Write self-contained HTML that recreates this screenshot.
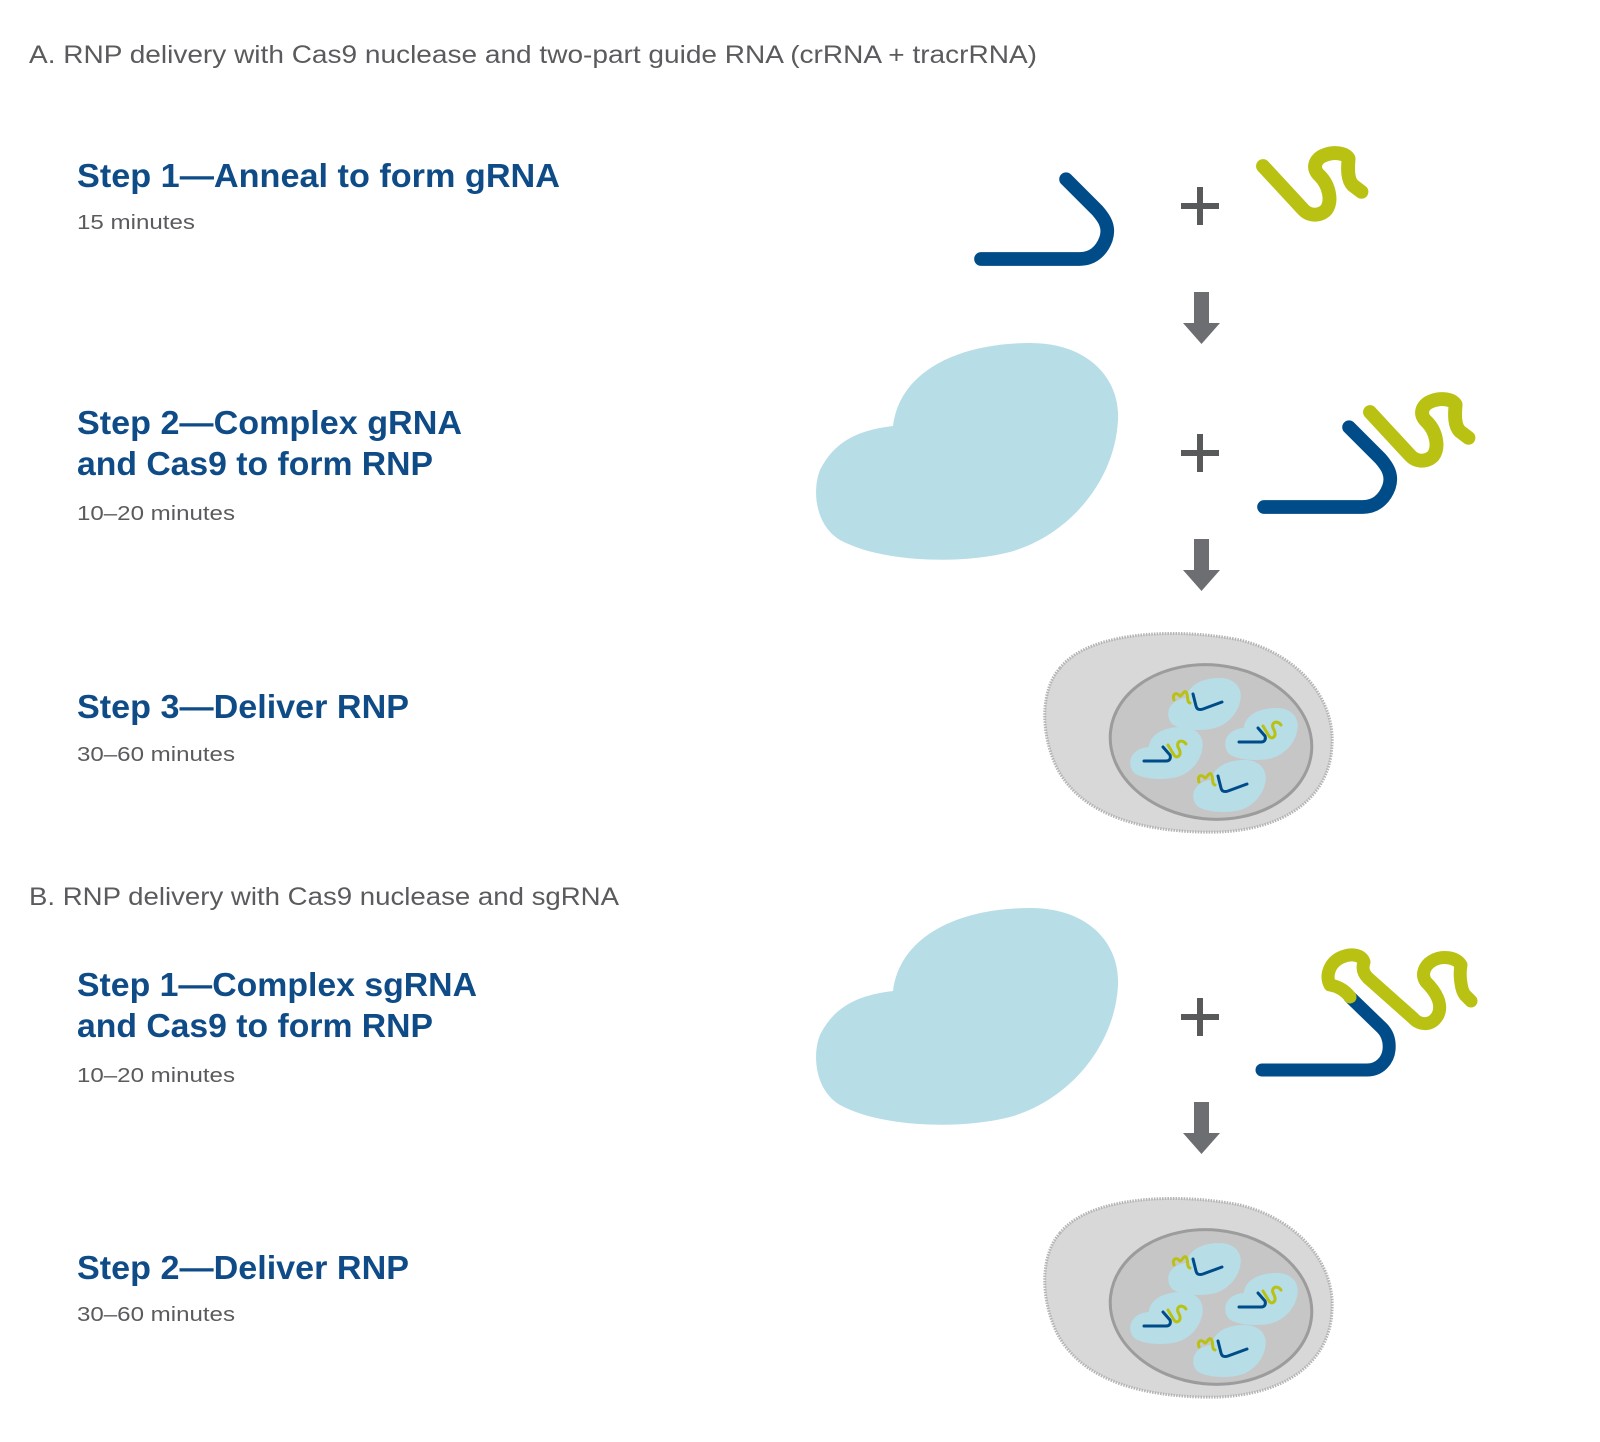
<!DOCTYPE html>
<html><head><meta charset="utf-8"><style>
html,body{margin:0;padding:0;background:#fff}
svg{display:block}
.t{font-family:"Liberation Sans",sans-serif;fill:#5a5b5e;font-size:25px}
.h{font-family:"Liberation Sans",sans-serif;fill:#0f4c87;font-size:33px;font-weight:bold}
.m{font-family:"Liberation Sans",sans-serif;fill:#5a5b5e;font-size:20px}
</style></head><body>
<svg width="1600" height="1442" viewBox="0 0 1600 1442" xmlns="http://www.w3.org/2000/svg">
<defs>
<path id="blob" d="M893,426 C900,370 960,343 1030,343 C1090,343 1120,380 1118,420 C1115,480 1070,535 1010,552 C960,565 880,562 840,540 C815,525 812,490 820,470 C835,440 860,430 893,426 Z" fill="#b7dde7"/>
<path id="blue" d="M981,259 L1075,259 C1090,259 1097,248 1100,240 C1104,228 1098,220 1092,213 L1062,183" fill="none" stroke="#004c89" stroke-width="13" stroke-linecap="round" stroke-linejoin="round"/>
<path id="green" d="M1243,167 L1280,207 C1286,214 1296,214 1302,208 C1308,200 1305,185 1296,176 C1288,169 1292,160 1300,157 C1310,153 1320,155 1323,160 C1322,170 1322,180 1327,185 L1335,191" fill="none" stroke="#b9c213" stroke-width="13" stroke-linecap="round" stroke-linejoin="round"/>
<g id="arrow" fill="#6d6e71"><rect x="1194" y="292" width="15" height="32"/><polygon points="1183,323 1220,323 1201.5,344"/></g>
<g id="plus" fill="#58595b"><rect x="1197" y="187" width="6" height="38"/><rect x="1181" y="203" width="38" height="6"/></g>
<g id="miniA">
<use href="#blob" transform="scale(0.24) translate(-815,-343)"/>
<path d="M6,22 C4,16 8,14 11,17 C13,21 15,12 18,14 C21,17 18,24 22,25" fill="none" stroke="#b9c213" stroke-width="3" stroke-linecap="round"/>
<path d="M25,16 L28,28 C29,32 32,32 35,31 L54,24" fill="none" stroke="#004c89" stroke-width="3" stroke-linecap="round"/>
</g>
<g id="miniB">
<use href="#blob" transform="scale(0.24) translate(-815,-343)"/>
<path d="M14,34 L36,34 C40,34 41,31 40,28 L33,20" fill="none" stroke="#004c89" stroke-width="3" stroke-linecap="round"/>
<path d="M38,18 L44,28 C46,31 49,30 50,27 C51,22 46,20 48,16 C50,13 54,14 56,17" fill="none" stroke="#b9c213" stroke-width="3" stroke-linecap="round"/>
</g>
<g id="cell">
<path d="M1060,668 C1090,630 1180,628 1240,640 C1300,655 1335,700 1332,745 C1330,800 1280,835 1200,832 C1130,830 1080,810 1058,770 C1040,735 1040,690 1060,668 Z" fill="#d8d8d8" stroke="#b4b4b4" stroke-width="3" stroke-dasharray="1.5 1.2"/>
<ellipse cx="1211" cy="742" rx="101" ry="77" fill="#c6c6c6" stroke="#9c9c9c" stroke-width="3" transform="rotate(6 1211 742)"/>
</g>
</defs>

<text class="t" x="29" y="63" textLength="1008" lengthAdjust="spacingAndGlyphs">A. RNP delivery with Cas9 nuclease and two-part guide RNA (crRNA + tracrRNA)</text>
<text class="h" x="77" y="187" textLength="483" lengthAdjust="spacingAndGlyphs">Step 1—Anneal to form gRNA</text>
<text class="m" x="77" y="229" textLength="118" lengthAdjust="spacingAndGlyphs">15 minutes</text>
<text class="h" x="77" y="434" textLength="385" lengthAdjust="spacingAndGlyphs">Step 2—Complex gRNA</text>
<text class="h" x="77" y="475" textLength="356" lengthAdjust="spacingAndGlyphs">and Cas9 to form RNP</text>
<text class="m" x="77" y="520" textLength="158" lengthAdjust="spacingAndGlyphs">10–20 minutes</text>
<text class="h" x="77" y="718" textLength="332" lengthAdjust="spacingAndGlyphs">Step 3—Deliver RNP</text>
<text class="m" x="77" y="761" textLength="158" lengthAdjust="spacingAndGlyphs">30–60 minutes</text>

<text class="t" x="29" y="905" textLength="590" lengthAdjust="spacingAndGlyphs">B. RNP delivery with Cas9 nuclease and sgRNA</text>
<text class="h" x="77" y="996" textLength="400" lengthAdjust="spacingAndGlyphs">Step 1—Complex sgRNA</text>
<text class="h" x="77" y="1037" textLength="356" lengthAdjust="spacingAndGlyphs">and Cas9 to form RNP</text>
<text class="m" x="77" y="1082" textLength="158" lengthAdjust="spacingAndGlyphs">10–20 minutes</text>
<text class="h" x="77" y="1279" textLength="332" lengthAdjust="spacingAndGlyphs">Step 2—Deliver RNP</text>
<text class="m" x="77" y="1321" textLength="158" lengthAdjust="spacingAndGlyphs">30–60 minutes</text>

<!-- A -->
<use href="#blue" transform="translate(981,259) scale(1.05) translate(-981,-259)"/>
<use href="#plus"/>
<use href="#green" transform="translate(20,0) translate(1243,180) scale(1.07) translate(-1243,-180)"/>
<use href="#arrow"/>
<use href="#blob"/>
<use href="#plus" transform="translate(0,247)"/>
<use href="#blue" transform="translate(283,248) translate(981,259) scale(1.05) translate(-981,-259)"/>
<use href="#green" transform="translate(127,246) translate(1243,180) scale(1.07) translate(-1243,-180)"/>
<use href="#arrow" transform="translate(0,247)"/>
<use href="#cell"/>
<use href="#miniA" transform="translate(1168,678)"/>
<use href="#miniB" transform="translate(1225,708)"/>
<use href="#miniB" transform="translate(1130,727)"/>
<use href="#miniA" transform="translate(1193,760)"/>

<!-- B -->
<use href="#blob" transform="translate(0,565)"/>
<use href="#plus" transform="translate(0,811)"/>
<path d="M1262,1070 L1367,1070 C1380,1070 1388,1060 1389,1050 C1390,1040 1387,1033 1382,1028 L1350,997" fill="none" stroke="#004c89" stroke-width="13" stroke-linecap="round" stroke-linejoin="round"/>
<path d="M1350,997 C1345,990 1337,986 1330,985 C1325,975 1330,962 1342,957 C1352,953 1362,955 1364,962 C1362,968 1363,973 1368,978 L1413,1018 C1420,1026 1432,1026 1438,1015 C1443,1004 1436,992 1426,982 C1421,975 1424,966 1432,961 C1442,955 1456,957 1461,965 C1459,975 1461,990 1465,995 L1471,1001" fill="none" stroke="#b9c213" stroke-width="13" stroke-linecap="round" stroke-linejoin="round"/>
<use href="#arrow" transform="translate(0,810)"/>
<use href="#cell" transform="translate(0,565)"/>
<use href="#miniA" transform="translate(1168,1243)"/>
<use href="#miniB" transform="translate(1225,1273)"/>
<use href="#miniB" transform="translate(1130,1292)"/>
<use href="#miniA" transform="translate(1193,1325)"/>
</svg>
</body></html>
